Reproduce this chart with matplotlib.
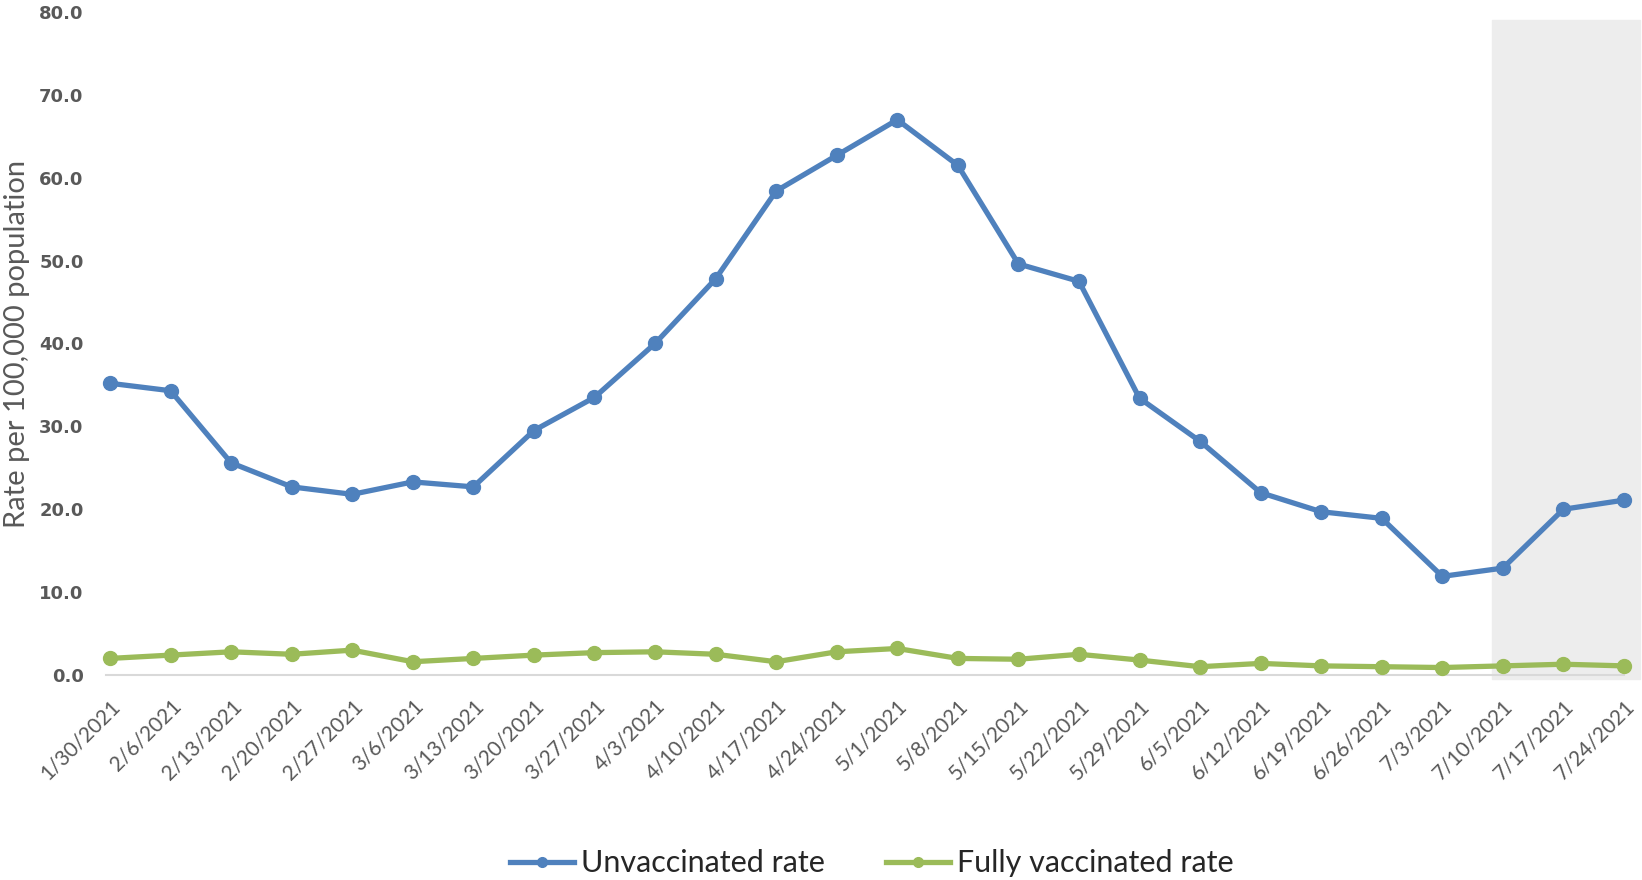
import matplotlib.pyplot as plt
from matplotlib import font_manager
import numpy as np

dates = ["1/30/2021", "2/6/2021", "2/13/2021", "2/20/2021", "2/27/2021", "3/6/2021",
         "3/13/2021", "3/20/2021", "3/27/2021", "4/3/2021", "4/10/2021", "4/17/2021",
         "4/24/2021", "5/1/2021", "5/8/2021", "5/15/2021", "5/22/2021", "5/29/2021",
         "6/5/2021", "6/12/2021", "6/19/2021", "6/26/2021", "7/3/2021", "7/10/2021",
         "7/17/2021", "7/24/2021"]
unvaccinated = [35.2, 34.3, 25.6, 22.7, 21.8, 23.3, 22.7, 29.5, 33.5, 40.0, 47.8, 58.4,
                62.7, 67.0, 61.5, 49.6, 47.5, 33.4, 28.2, 22.0, 19.7, 18.9, 11.9, 12.9,
                20.0, 21.1]
fully_vaccinated = [2.0, 2.4, 2.8, 2.5, 3.0, 1.6, 2.0, 2.4, 2.7, 2.8, 2.5, 1.6,
                    2.8, 3.2, 2.0, 1.9, 2.5, 1.8, 1.0, 1.4, 1.1, 1.0, 0.9, 1.1,
                    1.3, 1.1]

blue = "#4F81BD"
green = "#9BBB59"
grey = "#595959"

# narrow font for the legend, if there is one
names = {f.name for f in font_manager.fontManager.ttflist}
narrow = "Liberation Sans Narrow" if "Liberation Sans Narrow" in names else "Lato"
leg_size = 26 if narrow == "Liberation Sans Narrow" else 22

fig = plt.figure(figsize=(16.42, 8.8), dpi=100)
ax = fig.add_axes([110 / 1642, 205 / 880, (1624 - 110) / 1642, 663 / 880])

x = np.arange(len(dates))

# shaded area for the most recent weeks
ax.axvspan(22.82, 25.27, ymin=-0.006, ymax=0.988, color="#EDEDED", zorder=0, clip_on=False)
ax.plot([-0.07, 25], [0, 0], color="#D9D9D9", lw=1.5, zorder=1, clip_on=False)

ax.plot(x, unvaccinated, color=blue, lw=3.8, marker="o", ms=10, label="Unvaccinated rate",
        zorder=3, clip_on=False)
ax.plot(x, fully_vaccinated, color=green, lw=3.8, marker="o", ms=10, label="Fully vaccinated rate",
        zorder=3, clip_on=False)

ax.set_xlim(0, 25)
ax.set_ylim(0, 80)
ax.set_yticks(np.arange(0, 81, 10))
ax.set_yticklabels([f"{v:.1f}" for v in np.arange(0, 81, 10)], fontweight="bold",
                   fontsize=13, color=grey, family="DejaVu Sans")
ax.set_xticks(x)
ax.set_xticklabels(dates, rotation=45, ha="right", va="top", rotation_mode="anchor",
                   fontsize=15, color=grey, family="Lato")
ax.tick_params(axis="both", length=0)
ax.tick_params(axis="x", pad=15)
ax.tick_params(axis="y", pad=19)
for s in ax.spines.values():
    s.set_visible(False)

ax.set_ylabel("Rate per 100,000 population", fontsize=21, color=grey, family="Lato")
ax.yaxis.set_label_coords(-0.053, 0.5)

ax.legend(loc="center", bbox_to_anchor=(0.503, -0.284), ncol=2, frameon=False,
          prop={"family": narrow, "size": leg_size}, handlelength=2.1, handletextpad=0.22,
          columnspacing=2.0, markerscale=0.7, borderpad=0, borderaxespad=0)
for t in ax.get_legend().get_texts():
    t.set_color("#262626")

fig.savefig("out.png", dpi=100)
